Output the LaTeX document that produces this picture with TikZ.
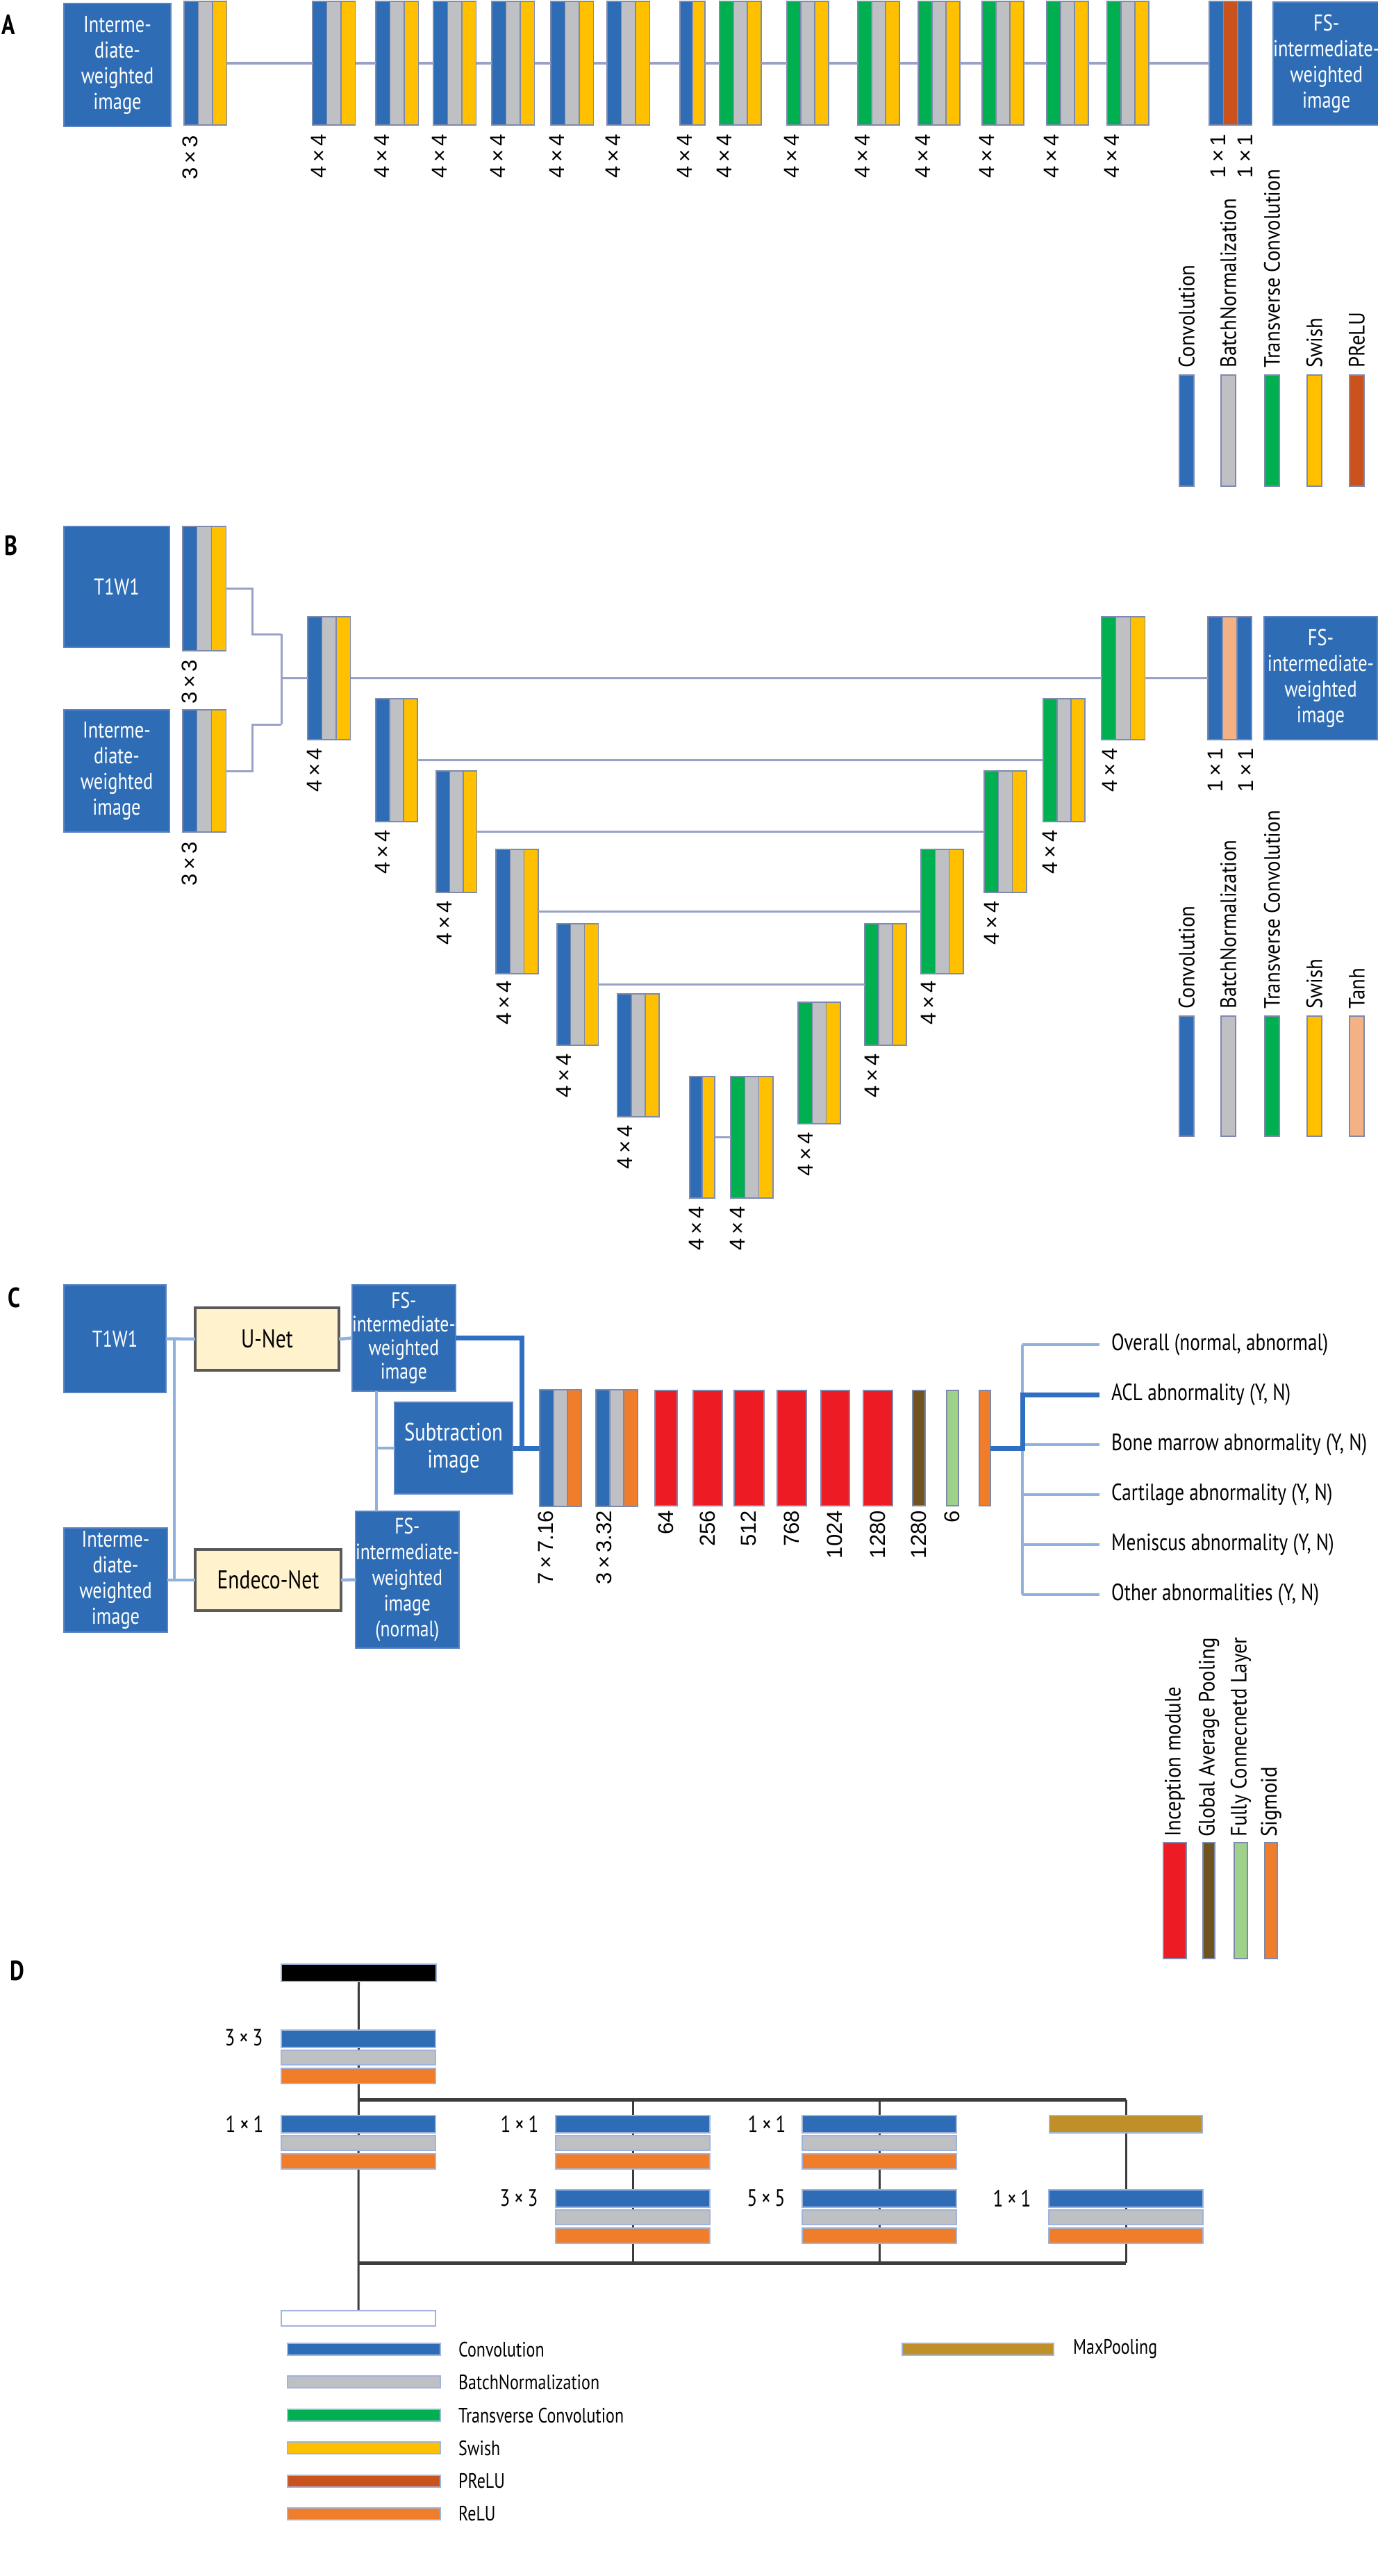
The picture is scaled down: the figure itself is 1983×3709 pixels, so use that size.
\documentclass[tikz,border=0pt]{standalone}
\usepackage{fontspec}
\setmainfont{PT Sans}
\newfontfamily\condf[FakeStretch=0.80]{PT Sans}
\newfontfamily\legf[FakeStretch=0.9]{PT Sans}
\newfontfamily\numf{Liberation Sans}
\usetikzlibrary{backgrounds}
\pgfdeclarelayer{bottom}
\pgfsetlayers{bottom,background,main}
\definecolor{cblue}{HTML}{2E6DB5}
\definecolor{cboxedge}{HTML}{5A84C4}
\definecolor{cgray}{HTML}{BFC0C4}
\definecolor{cyel}{HTML}{FFC000}
\definecolor{cgreen}{HTML}{00B050}
\definecolor{cprelu}{HTML}{C9521D}
\definecolor{ctanh}{HTML}{F4B183}
\definecolor{corange}{HTML}{F07D2A}
\definecolor{cred}{HTML}{ED1C24}
\definecolor{cbrown}{HTML}{6F5420}
\definecolor{cfc}{HTML}{9FD18B}
\definecolor{cmax}{HTML}{BF8F28}
\definecolor{ccream}{HTML}{FFF2CC}
\definecolor{cnetedge}{HTML}{5A5A5A}
\definecolor{cedge}{HTML}{7E89AE}
\definecolor{clineab}{HTML}{98A2C8}
\definecolor{clinec}{HTML}{8EB1E0}
\definecolor{cthick}{HTML}{2F6FC2}
\definecolor{cdline}{HTML}{3C3C3C}
\definecolor{cdbaredge}{HTML}{9FB3DC}
\newcommand{\blk}[7]{%
  \pgfmathsetmacro{\blkw}{#5*#6}%
  \node[blkframe, minimum width=\blkw pt, minimum height=#4pt] (#1) at (#2,#3) {};%
  \foreach \cc [count=\ii] in {#7}{%
    \node[stripe, fill=\cc, minimum width=#5pt, minimum height=#4pt] (#1-\ii) at ({#2+(\ii-1)*#5},#3) {};%
  }%
}
\newcommand{\dstk}[3]{%
  \node[dbar, fill=cblue, minimum width=222pt, minimum height=25pt] (#1-1) at (#2,#3) {};%
  \node[dbar, fill=cgray, minimum width=222pt, minimum height=21pt] (#1-2) at (#2,#3+29) {};%
  \node[dbar, fill=corange, minimum width=222pt, minimum height=22pt] (#1-3) at (#2,#3+55) {};%
}
\begin{document}
\begin{tikzpicture}[x=1pt,y=-1pt,
  stripe/.style={draw=cedge, line width=1.2pt, inner sep=0pt, outer sep=0pt, anchor=north west},
  blkframe/.style={inner sep=0pt, outer sep=0pt, anchor=north west},
  imgbox/.style={draw=cboxedge, line width=2pt, fill=cblue, text=white, font=\condf\fontsize{33}{37}\selectfont, align=center, inner sep=0pt, outer sep=0pt, anchor=north west},
  netbox/.style={draw=cnetedge, line width=4pt, fill=ccream, font=\condf\fontsize{37}{40}\selectfont, inner sep=0pt, outer sep=0pt, anchor=north west},
  numlab/.style={font=\numf\fontsize{31}{33}\selectfont, inner sep=0pt, rotate=90, anchor=east},
  leglab/.style={font=\legf\fontsize{32}{34}\selectfont, inner sep=0pt, rotate=90, anchor=west},
  legbar/.style={draw=cedge, line width=2pt, inner sep=0pt, outer sep=0pt, anchor=north west},
  panel/.style={font=\condf\bfseries\fontsize{40}{42}\selectfont, inner sep=0pt},
  lineab/.style={draw=clineab, line width=3.5pt},
  linec/.style={draw=clinec, line width=4.5pt},
  thickc/.style={draw=cthick, line width=7pt},
  dline/.style={draw=cdline, line width=3pt},
  dbus/.style={draw=cdline, line width=5pt},
  dbar/.style={draw=cdbaredge, line width=2.5pt, inner sep=0pt, outer sep=0pt, anchor=north west},
  outtxt/.style={font=\condf\fontsize{34}{36}\selectfont, anchor=west, inner sep=0pt, inner xsep=17pt},
  dlab/.style={font=\condf\fontsize{34}{36}\selectfont, inner sep=0pt},
  dleg/.style={font=\condf\fontsize{30}{32}\selectfont, anchor=west, inner sep=0pt}
]
\useasboundingbox (0,0) rectangle (1983,3709);
\begin{pgfonlayer}{bottom}
\fill[white] (0,0) rectangle (1983,3709);
\end{pgfonlayer}

% ================= Panel A
\node[panel] (pA) at (12,35) {A};
\node[imgbox, minimum width=154pt, minimum height=177pt] (ina) at (92,5) {Interme-\\diate-\\weighted\\image};
\blk{a0}{265}{2}{178}{20.5}{3}{cblue,cgray,cyel}
\foreach \n/\x in {1/450,2/541,3/624,4/708,5/793,6/874}{\blk{a\n}{\x}{2}{178}{20.5}{3}{cblue,cgray,cyel}}
\blk{a7}{979}{2}{178}{18}{2}{cblue,cyel}
\foreach \n/\x in {8/1036,9/1133,10/1235,11/1322,12/1414,13/1507,14/1594}{\blk{a\n}{\x}{2}{178}{20}{3}{cgreen,cgray,cyel}}
\blk{a15}{1741}{2}{178}{20.5}{3}{cblue,cprelu,cblue}
\node[imgbox, minimum width=150pt, minimum height=177pt] (fsa) at (1833,3) {FS-\\intermediate-\\weighted\\image};
\foreach \p [evaluate=\p as \q using int(\p+1)] in {0,...,14}{\draw[lineab] (a\p.east) -- (a\q.west);}
\node[numlab] (la0) at (274,195) {3\,×\,3};
\foreach \n/\x in {1/459,2/550,3/633,4/717,5/802,6/883,7/986,8/1043,9/1140,10/1242,11/1329,12/1421,13/1514,14/1601}{\node[numlab] (la\n) at (\x,193) {4\,×\,4};}
\node[numlab] (la15) at (1754,193) {1\,×\,1};
\node[numlab] (la16) at (1793,193) {1\,×\,1};
% legend A
\foreach \n/\x/\c/\t in {1/1698/cblue/Convolution,2/1758/cgray/BatchNormalization,3/1821/cgreen/Transverse Convolution,4/1882/cyel/Swish,5/1943/cprelu/PReLU}{
  \node[legbar, fill=\c, minimum width=21pt, minimum height=160pt] (lgA\n) at (\x,540) {};
  \node[leglab] (lgAt\n) at (\x+10.5,530) {\t};
}

% ================= Panel B
\node[panel] (pB) at (16,785) {B};
\node[imgbox, minimum width=152pt, minimum height=174pt] (t1b) at (92,758) {T1W1};
\node[imgbox, minimum width=152pt, minimum height=176pt] (inb) at (92,1022) {Interme-\\diate-\\weighted\\image};
\blk{b0t}{263}{758}{179}{20.7}{3}{cblue,cgray,cyel}
\blk{b0b}{263}{1022}{176}{20.7}{3}{cblue,cgray,cyel}
\node[numlab] (lb0t) at (273,950) {3\,×\,3};
\node[numlab] (lb0b) at (273,1212) {3\,×\,3};
\blk{B1}{443}{888}{177}{20.5}{3}{cblue,cgray,cyel}
\blk{B2}{541}{1006}{177}{20}{3}{cblue,cgray,cyel}
\blk{B3}{628}{1110}{175}{19.5}{3}{cblue,cgray,cyel}
\blk{B4}{714}{1223}{179}{20.3}{3}{cblue,cgray,cyel}
\blk{B5}{802}{1330}{175}{19.7}{3}{cblue,cgray,cyel}
\blk{B6}{889}{1431}{177}{20}{3}{cblue,cgray,cyel}
\blk{B7}{993}{1550}{175}{18}{2}{cblue,cyel}
\blk{D7}{1052}{1550}{175}{20.3}{3}{cgreen,cgray,cyel}
\blk{D6}{1149}{1443}{175}{20.3}{3}{cgreen,cgray,cyel}
\blk{D5}{1245}{1330}{175}{20}{3}{cgreen,cgray,cyel}
\blk{D4}{1326}{1223}{179}{20.3}{3}{cgreen,cgray,cyel}
\blk{D3}{1417}{1110}{175}{20.3}{3}{cgreen,cgray,cyel}
\blk{D2}{1502}{1006}{177}{20}{3}{cgreen,cgray,cyel}
\blk{D1}{1586}{888}{177}{20.7}{3}{cgreen,cgray,cyel}
\blk{OB}{1739}{888}{177}{21}{3}{cblue,ctanh,cblue}
\node[imgbox, minimum width=163pt, minimum height=177pt] (fsb) at (1820,888) {FS-\\intermediate-\\weighted\\image};
% bracket
\coordinate (jtt) at (363,913); \coordinate (jbb) at (363,1043);
\coordinate (jt) at (405,913); \coordinate (jb) at (405,1043); \coordinate (jm) at (405,976.5);
\draw[lineab, line width=3pt] (b0t.east) -| (jtt) -- (jt);
\draw[lineab, line width=3pt] (b0b.east) -| (jbb) -- (jb);
\draw[lineab, line width=3pt] (jt) -- (jb);
\draw[lineab] (jm) -- (B1.west);
\foreach \k in {1,2,3,4,5,7}{\draw[lineab] (B\k.east) -- (D\k.west);}
\draw[lineab] (D1.east) -- (OB.west);
% labels B
\foreach \n/\x/\y in {1/453/1077,2/551/1195,3/640/1297,4/726/1412,5/812/1517,6/900/1620,7/1003/1737}{\node[numlab] (lB\n) at (\x,\y) {4\,×\,4};}
\foreach \n/\x/\y in {7/1062/1737,6/1160/1630,5/1256/1517,4/1337/1412,3/1428/1297,2/1512/1195,1/1598/1077}{\node[numlab] (lD\n) at (\x,\y) {4\,×\,4};}
\node[numlab] (lOB1) at (1750,1077) {1\,×\,1};
\node[numlab] (lOB2) at (1794,1077) {1\,×\,1};
% legend B
\foreach \n/\x/\c/\t in {1/1698/cblue/Convolution,2/1758/cgray/BatchNormalization,3/1821/cgreen/Transverse Convolution,4/1882/cyel/Swish,5/1943/ctanh/Tanh}{
  \node[legbar, fill=\c, minimum width=21pt, minimum height=173pt] (lgB\n) at (\x,1463) {};
  \node[leglab] (lgBt\n) at (\x+10.5,1453) {\t};
}

% ================= Panel C
\node[panel] (pC) at (20,1868) {C};
\node[imgbox, minimum width=147pt, minimum height=155pt] (t1c) at (92,1850) {T1W1};
\node[netbox, minimum width=207pt, minimum height=90pt] (unet) at (281,1883) {U-Net};
\node[imgbox, minimum width=147pt, minimum height=153pt, font=\condf\fontsize{32}{34}\selectfont] (fsu) at (507,1850) {FS-\\intermediate-\\weighted\\image};
\node[imgbox, minimum width=170pt, minimum height=132pt, font=\condf\fontsize{36}{39}\selectfont] (sub) at (568,2019) {Subtraction\\image};
\node[imgbox, minimum width=149pt, minimum height=150pt] (intc) at (92,2200) {Interme-\\diate-\\weighted\\image};
\node[netbox, minimum width=210pt, minimum height=88pt] (endeco) at (281,2231) {Endeco-Net};
\node[imgbox, minimum width=147pt, minimum height=197pt, font=\condf\fontsize{32}{37}\selectfont] (fsl) at (512,2176) {FS-\\intermediate-\\weighted\\image\\(normal)};
\blk{cb1}{777}{2001}{168}{20}{3}{cblue,cgray,corange}
\blk{cb2}{858}{2001}{168}{20}{3}{cblue,cgray,corange}
\blk{cb3}{943}{2002}{166}{32}{1}{cred}
\blk{cb4}{998}{2002}{166}{42}{1}{cred}
\blk{cb5}{1057}{2002}{166}{43}{1}{cred}
\blk{cb6}{1119}{2002}{166}{42}{1}{cred}
\blk{cb7}{1182}{2002}{166}{41}{1}{cred}
\blk{cb8}{1243}{2002}{166}{42}{1}{cred}
\blk{cb9}{1314}{2002}{166}{18}{1}{cbrown}
\blk{cb10}{1363}{2002}{166}{17}{1}{cfc}
\blk{cb11}{1410}{2002}{166}{16}{1}{corange}
\node[numlab] (lc1) at (786,2175) {7\,×\,7.16};
\node[numlab] (lc2) at (870,2175) {3\,×\,3.32};
\foreach \n/\x/\t in {3/959/64,4/1019/256,5/1078/512,6/1140/768,7/1202/1024,8/1264/1280,9/1323/1280,10/1371/6}{\node[numlab] (lc\n) at (\x,2175) {\t};}
% connectors C
\coordinate (cv1) at (251,1927); \coordinate (cv2) at (251,2275);
\draw[linec] (t1c.east) -- (unet.west);
\draw[linec] (unet.east) -- (fsu.west);
\draw[linec] (cv1) -- (cv2);
\draw[linec] (intc.east) -- (endeco.west);
\draw[linec] (endeco.east) -- (fsl.west);
\coordinate (sv) at (542,2085);
\draw[linec] (sv |- fsu.south) -- (sv |- fsl.north);
\draw[linec] (sv) -- (sub.west);
\coordinate (tk) at (751,2085);
\draw[thickc] (fsu.east) -| (tk) -- (cb1.west);
\draw[thickc] (sub.east) -- (cb1.west);
% outputs
\node[outtxt] (o1) at (1583,1936) {Overall (normal, abnormal)};
\node[outtxt] (o2) at (1583,2008) {ACL abnormality (Y, N)};
\node[outtxt] (o3) at (1583,2080) {Bone marrow abnormality (Y, N)};
\node[outtxt] (o4) at (1583,2152) {Cartilage abnormality (Y, N)};
\node[outtxt] (o5) at (1583,2224) {Meniscus abnormality (Y, N)};
\node[outtxt] (o6) at (1583,2296) {Other abnormalities (Y, N)};
\coordinate (hubT) at (1472,1936); \coordinate (hubB) at (1472,2296); \coordinate (hubM) at (1472,2085);
\draw[linec] (hubT) -- (hubB);
\foreach \k in {1,3,4,5,6}{\draw[linec] (hubT |- o\k.west) -- (o\k.west);}
\draw[thickc] (cb11.east) -- (hubM) |- (o2.west);
% legend C
\foreach \n/\x/\w/\c/\t in {1/1675/33/cred/Inception module,2/1732/17/cbrown/Global Average Pooling,3/1777/19/cfc/Fully Connecnetd Layer,4/1821/18/corange/Sigmoid}{
  \node[legbar, fill=\c, minimum width=\w pt, minimum height=167pt] (lgC\n) at (\x,2653) {};
  \node[leglab] (lgCt\n) at (\x+\w/2,2645) {\t};
}

% ================= Panel D
\node[panel] (pD) at (25,2837) {D};
\node[dbar, fill=black, minimum width=223pt, minimum height=25pt] (din) at (405,2828) {};
\dstk{s1}{405}{2923}
\dstk{s2}{405}{3046}
\dstk{s3}{800}{3046}
\dstk{s4}{1155}{3046}
\node[dbar, fill=cmax, minimum width=220pt, minimum height=25pt] (mp) at (1511,3046) {};
\dstk{s3b}{800}{3153}
\dstk{s4b}{1155}{3153}
\dstk{s5b}{1510}{3153}
\node[dbar, fill=white, minimum width=222pt, minimum height=22pt] (dout) at (405,3327) {};
\node[dlab] (dl1) at (351,2934) {3\,×\,3};
\node[dlab] (dl2) at (352,3058) {1\,×\,1};
\node[dlab] (dl3) at (748,3058) {1\,×\,1};
\node[dlab] (dl4) at (1104,3058) {1\,×\,1};
\node[dlab] (dl5) at (747,3165) {3\,×\,3};
\node[dlab] (dl6) at (1103,3165) {5\,×\,5};
\node[dlab] (dl7) at (1457,3165) {1\,×\,1};
\begin{scope}[on background layer]
\draw[dline] (din.south) -- (dout.north);
\coordinate (bt1) at (516,3023); \coordinate (bt2) at (1621,3023);
\coordinate (bb1) at (516,3258); \coordinate (bb2) at (1621,3258);
\draw[dbus] (bt1) -- (bt2);
\draw[dbus] (bb1) -- (bb2);
\draw[dline] (s3-1.north |- bt1) -- (s3-1.north |- bb1);
\draw[dline] (s4-1.north |- bt1) -- (s4-1.north |- bb1);
\draw[dline] (mp.north |- bt1) -- (mp.north |- bb1);
\end{scope}
% legend D
\foreach \n/\y/\c/\t in {1/3374/cblue/Convolution,2/3421/cgray/BatchNormalization,3/3469/cgreen/Transverse Convolution,4/3516/cyel/Swish,5/3564/cprelu/PReLU,6/3611/corange/ReLU}{
  \node[dbar, fill=\c, minimum width=220pt, minimum height=17pt] (lgD\n) at (414,\y) {};
  \node[dleg] (lgDt\n) at (660,\y+8.5) {\t};
}
\node[dbar, fill=cmax, minimum width=218pt, minimum height=17pt] (lgD7) at (1299,3374) {};
\node[dleg] (lgDt7) at (1545,3382.5) {MaxPooling};
\end{tikzpicture}
\end{document}
